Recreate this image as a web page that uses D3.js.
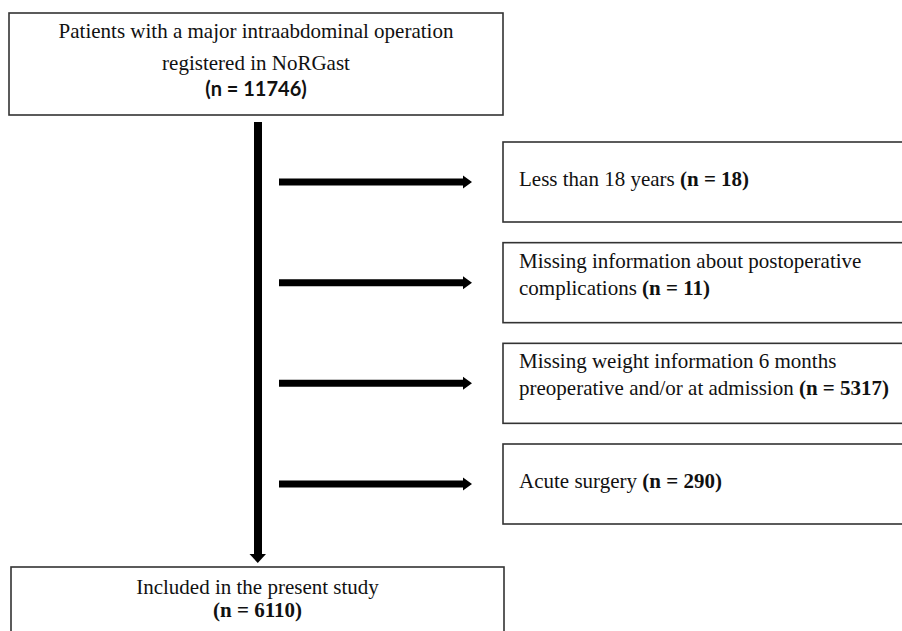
<!DOCTYPE html>
<html>
<head>
<meta charset="utf-8">
<script src="https://cdn.jsdelivr.net/npm/d3@7"></script>
<style>
  html, body { margin: 0; padding: 0; background: #fff; }
  svg { display: block; }
  .serif { font-family: "Liberation Serif", "Times New Roman", serif; font-size: 21px; fill: #111; }
  .sans-bold { font-family: Lato, "Liberation Sans", sans-serif; font-weight: 700; font-size: 20px; fill: #111; }
  .box { fill: #fff; stroke: #333; stroke-width: 1.6; }
  .flow { fill: #000; }
</style>
</head>
<body>
<div id="chart"></div>
<script>
// ──────────────  data

const startLabel = ['Patients with a major intraabdominal operation', 'registered in NoRGast'];
const startCount = 11746;

const exclusionLabels = [
  ['Less than 18 years'],
  ['Missing information about postoperative', 'complications'],
  ['Missing weight information 6 months', 'preoperative and/or at admission'],
  ['Acute surgery'],
];
const exclusionCounts = [18, 11, 5317, 290];

const endLabel = ['Included in the present study'];
const endCount = 6110;

// ──────────────  layout

const W = 902, H = 631;
const svg = d3.select('#chart').append('svg')
  .attr('width', W).attr('height', H);

// exclusion rows placed on a point scale
const rowY = d3.scalePoint()
  .domain(d3.range(exclusionCounts.length))
  .range([182, 484]);

const STEM_X = 257.5;
const SHAFT = 7;

// top box
svg.append('rect').attr('class', 'box')
  .attr('x', 9).attr('y', 13).attr('width', 494).attr('height', 102);

const topBox = svg.append('g');
topBox.selectAll('text.line')
  .data(startLabel)
  .join('text')
  .attr('class', 'serif line')
  .attr('x', 256)
  .attr('y', (d, i) => 38 + i * 32)
  .attr('text-anchor', 'middle')
  .text(d => d);
topBox.append('text')
  .attr('class', 'sans-bold')
  .attr('x', 256).attr('y', 96)
  .attr('text-anchor', 'middle')
  .text(`(n = ${startCount})`);

// vertical stem + down arrow head
const STEM_TOP = 122, STEM_END = 563;
svg.append('rect').attr('class', 'flow')
  .attr('x', STEM_X - SHAFT / 2).attr('y', STEM_TOP)
  .attr('width', SHAFT + 1).attr('height', STEM_END - 8 - STEM_TOP);
svg.append('path').attr('class', 'flow')
  .attr('d', `M${STEM_X - 8},${STEM_END - 9} L${STEM_X + 8.5},${STEM_END - 9} L${STEM_X + 0.25},${STEM_END} Z`);

// side arrows
const ARROW_X0 = 279, ARROW_X1 = 472, HEAD = 9;
svg.append('g').selectAll('path')
  .data(exclusionCounts)
  .join('path')
  .attr('class', 'flow')
  .attr('d', (d, i) => {
    const y = rowY(i);
    const h = SHAFT / 2;
    return `M${ARROW_X0},${y - h} L${ARROW_X1 - HEAD},${y - h} L${ARROW_X1 - HEAD},${y - 6.5}` +
           ` L${ARROW_X1},${y} L${ARROW_X1 - HEAD},${y + 6.5} L${ARROW_X1 - HEAD},${y + h}` +
           ` L${ARROW_X0},${y + h} Z`;
  });

// exclusion boxes
const BOX_X = 503, BOX_H = 80;
const ex = svg.append('g').selectAll('g')
  .data(exclusionCounts)
  .join('g');

ex.append('rect').attr('class', 'box')
  .attr('x', BOX_X).attr('y', (d, i) => rowY(i) - BOX_H / 2)
  .attr('width', W + 10 - BOX_X).attr('height', BOX_H);

ex.each(function (count, i) {
  const lines = exclusionLabels[i];
  const y0 = lines.length === 1 ? rowY(i) + 4 : rowY(i) - 15;
  const g = d3.select(this);
  lines.forEach((line, j) => {
    const t = g.append('text')
      .attr('class', 'serif')
      .attr('x', BOX_X + 16)
      .attr('y', y0 + j * 27);
    t.append('tspan').text(line + (j === lines.length - 1 ? ' ' : ''));
    if (j === lines.length - 1) {
      t.append('tspan').attr('font-weight', 700).text(`(n = ${count})`);
    }
  });
});

// bottom box
svg.append('rect').attr('class', 'box')
  .attr('x', 11).attr('y', 567).attr('width', 493).attr('height', 90);

const bottomBox = svg.append('g');
bottomBox.selectAll('text.line')
  .data(endLabel)
  .join('text')
  .attr('class', 'serif line')
  .attr('x', 257.5).attr('y', (d, i) => 594 + i * 23)
  .attr('text-anchor', 'middle')
  .text(d => d);
bottomBox.append('text')
  .attr('class', 'serif')
  .attr('font-weight', 700)
  .attr('x', 257.5).attr('y', 594 + endLabel.length * 23)
  .attr('text-anchor', 'middle')
  .text(`(n = ${endCount})`);
</script>
</body>
</html>
